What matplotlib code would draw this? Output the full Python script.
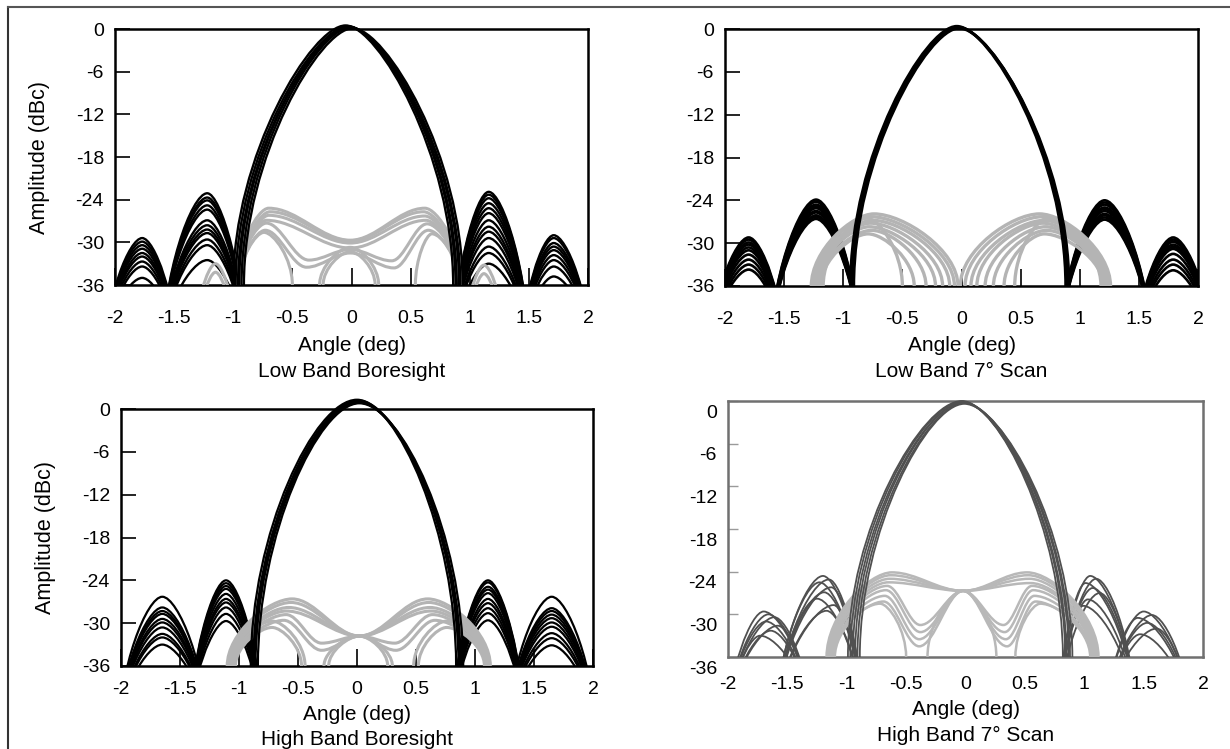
import matplotlib
matplotlib.use("Agg")
import matplotlib.pyplot as plt
import matplotlib.transforms as mtransforms
from matplotlib.path import Path
from matplotlib.patches import PathPatch
from matplotlib.lines import Line2D

plt.rcParams['font.family'] = ['Liberation Sans', 'DejaVu Sans']
plt.rcParams['axes.unicode_minus'] = False

W, H = 1230, 749
FLOOR = -36

x_ticks = [-2, -1.5, -1, -0.5, 0, 0.5, 1, 1.5, 2]
x_tick_labels = ['-2', '-1.5', '-1', '-0.5', '0', '0.5', '1', '1.5', '2']
y_ticks = [0, -6, -12, -18, -24, -30, -36]
y_tick_labels = ['0', '-6', '-12', '-18', '-24', '-30', '-36']
titles = ['Low Band Boresight', 'Low Band 7° Scan', 'High Band Boresight', 'High Band 7° Scan']

# ---------------- Low band boresight ----------------
lbb_beam_left = [-1.0, -0.98, -0.96, -0.95, -0.93, -0.91]
lbb_beam_right = [0.86, 0.88, 0.89, 0.91, 0.92, 0.94]
lbb_beam_x = [-0.05, -0.03, -0.02, -0.02, -0.01, 0.01]
lbb_beam_peak = [0.5, 0.4, 0.3, 0.3, 0.2, 0.1]
lbb_lobe_nulls = [(-2.08, -1.48), (-1.6, -0.9), (0.86, 1.5), (1.44, 2.02)]
lbb_lobe_x = [-1.77, -1.22, 1.16, 1.71]
lbb_lobe_levels = [
    [-29.4, -29.9, -30.4, -30.9, -31.5, -32.0, -32.7, -33.4, -35.0],
    [-23.1, -23.7, -24.1, -24.8, -25.4, -26.9, -27.6, -28.2, -28.7, -29.6, -30.4, -32.5],
    [-22.9, -23.3, -23.8, -24.5, -25.2, -25.9, -26.9, -27.8, -28.5, -29.4, -30.6, -31.5, -33.0],
    [-29.0, -29.4, -30.1, -30.6, -31.1, -31.8, -32.5, -33.4, -34.8],
]
lbb_gray_x = [
    [-0.97, -0.70, -0.01, 0.62, 0.93],
    [-0.96, -0.69, -0.01, 0.61, 0.92],
    [-0.95, -0.70, -0.01, 0.62, 0.92],
    [-0.95, -0.72, -0.01, 0.63, 0.91],
    [-0.96, -0.72, -0.36, -0.01, 0.34, 0.64, 0.92],
    [-0.95, -0.73, -0.38, -0.01, 0.36, 0.65, 0.91],
    [-0.95, -0.74, -0.50],
    [0.54, 0.68, 0.92],
    [-0.27, -0.01, 0.23],
    [-0.24, -0.01, 0.20],
    [-1.34, -1.15, -0.96],
    [-1.32, -1.15, -0.98],
    [0.94, 1.12, 1.31],
    [0.96, 1.12, 1.29],
]
lbb_gray_y = [
    [-36, -25.2, -29.7, -25.2, -36],
    [-36, -25.7, -29.8, -25.7, -36],
    [-36, -26.2, -30.1, -26.3, -36],
    [-36, -26.9, -30.8, -26.9, -36],
    [-36, -27.3, -32.5, -31.0, -32.6, -27.4, -36],
    [-36, -28.3, -33.5, -31.5, -33.6, -28.3, -36],
    [-36, -28.6, -36],
    [-36, -28.8, -36],
    [-36, -30.7, -36],
    [-36, -31.3, -36],
    [-46, -33.0, -46],
    [-46, -34.2, -46],
    [-46, -33.2, -46],
    [-46, -34.4, -46],
]

# ---------------- Low band 7 deg scan ----------------
lbs_beam_left = [-0.94, -0.93, -0.92, -0.91]
lbs_beam_right = [0.88, 0.89, 0.90, 0.91]
lbs_beam_x = [-0.04, -0.03, -0.02, -0.02]
lbs_beam_peak = [0.4, 0.3, 0.2, 0.1]
lbs_lobe_nulls = [(-2.12, -1.5), (-1.62, -0.86), (0.83, 1.61), (1.47, 2.12)]
lbs_lobe_x = [-1.8, -1.23, 1.21, 1.79]
lbs_lobe_levels = [
    [-29.2, -29.5, -29.9, -30.2, -30.6, -31.0, -31.6, -32.3, -33.0, -33.7],
    [-23.9, -24.2, -24.6, -24.9, -25.1, -25.5, -25.7, -26.1, -26.3, -26.6],
    [-24.0, -24.3, -24.6, -25.0, -25.2, -25.5, -25.9, -26.1, -26.4, -26.7],
    [-29.2, -29.5, -29.8, -30.2, -30.5, -30.8, -31.5, -32.3, -33.0, -33.8],
]
lbs_arch_left = [-1.27, -1.26, -1.25, -1.24, -1.22, -1.21, -1.19, -1.17]
lbs_arch_x = [-0.74, -0.76, -0.75, -0.77, -0.78, -0.76, -0.79, -0.80]
lbs_arch_peak = [-25.9, -26.3, -26.8, -27.2, -27.7, -28.2, -28.7, -26.5]
lbs_arch_right = [-0.03, -0.06, -0.10, -0.16, -0.22, -0.30, -0.40, -0.50]
lbs_arch2_left = [-0.01, 0.03, 0.08, 0.13, 0.20, 0.27, 0.36, 0.45]
lbs_arch2_x = [0.66, 0.68, 0.70, 0.69, 0.71, 0.72, 0.70, 0.73]
lbs_arch2_peak = [-25.9, -26.3, -26.8, -27.2, -27.7, -28.2, -28.7, -26.5]
lbs_arch2_right = [1.26, 1.25, 1.24, 1.23, 1.22, 1.21, 1.20, 1.18]

# ---------------- High band boresight ----------------
hbb_beam_left = [-0.90, -0.88, -0.87, -0.86, -0.84]
hbb_beam_right = [0.84, 0.86, 0.87, 0.88, 0.90]
hbb_beam_x = [0.0, 0.01, 0.01, 0.02, 0.02]
hbb_beam_peak = [1.3, 1.2, 1.0, 0.9, 0.8]
hbb_lobe_nulls = [(-2.02, -1.27), (-1.42, -0.8), (0.8, 1.42), (1.28, 2.02)]
hbb_lobe_x = [-1.65, -1.11, 1.11, 1.65]
hbb_lobe_levels = [
    [-26.3, -27.8, -28.3, -28.7, -29.4, -29.9, -30.6, -31.5, -32.0, -33.0],
    [-24.0, -24.4, -24.8, -25.2, -25.9, -26.6, -27.1, -27.8, -28.7, -29.7],
    [-24.0, -24.3, -24.9, -25.3, -25.8, -26.6, -27.2, -27.9, -28.6, -29.6],
    [-26.3, -27.9, -28.3, -28.8, -29.3, -29.9, -30.5, -31.4, -32.1, -33.1],
]
hbb_gray_x = [
    [-1.10, -0.55, 0.02, 0.60, 1.13],
    [-1.09, -0.56, 0.02, 0.61, 1.12],
    [-1.08, -0.58, 0.02, 0.62, 1.12],
    [-1.07, -0.60, 0.02, 0.63, 1.11],
    [-1.06, -0.60, -0.30, 0.02, 0.32, 0.64, 1.10],
    [-1.05, -0.62, -0.30, 0.02, 0.33, 0.66, 1.10],
    [-1.05, -0.72, -0.44],
    [-1.03, -0.72, -0.47],
    [0.48, 0.76, 1.10],
    [0.52, 0.76, 1.08],
    [-0.28, 0.02, 0.30],
    [-0.24, 0.02, 0.26],
]
hbb_gray_y = [
    [-36, -26.6, -31.8, -26.6, -36],
    [-36, -27.1, -31.8, -27.1, -36],
    [-36, -27.8, -31.8, -27.8, -36],
    [-36, -28.3, -31.8, -28.3, -36],
    [-36, -28.8, -32.8, -31.8, -32.8, -28.8, -36],
    [-36, -29.6, -33.8, -31.8, -33.8, -29.6, -36],
    [-36, -29.7, -36],
    [-36, -30.6, -36],
    [-36, -29.7, -36],
    [-36, -30.6, -36],
    [-36, -31.8, -36],
    [-36, -31.8, -36],
]

# ---------------- High band 7 deg scan ----------------
hbs_beam_left = [-0.99, -0.97, -0.95, -0.93, -0.91, -0.89]
hbs_beam_right = [0.82, 0.84, 0.85, 0.87, 0.88, 0.90]
hbs_beam_x = [-0.03, -0.03, -0.02, -0.02, -0.01, -0.01]
hbs_beam_peak = [0.0, -0.1, -0.2, -0.2, -0.3, -0.4]
hbs_lobe_nulls = [(-2.0, -1.3), (-1.6, -0.86), (0.78, 1.44), (1.18, 1.9)]
hbs_lobe_x = [
    [-1.70, -1.66, -1.61, -1.68, -1.58, -1.64, -1.73],
    [-1.20, -1.15, -1.23, -1.13, -1.19, -1.25, -1.11, -1.17],
    [1.05, 1.10, 1.01, 1.07, 1.13, 1.03, 0.99],
    [1.50, 1.57, 1.45, 1.53, 1.61, 1.47],
]
hbs_lobe_levels = [
    [-29.6, -30.0, -30.4, -31.0, -31.6, -32.3, -33.0],
    [-24.6, -25.1, -25.5, -26.2, -26.9, -27.8, -28.7, -29.5],
    [-24.6, -25.0, -25.6, -26.3, -27.0, -27.9, -28.8],
    [-29.6, -30.1, -30.5, -31.2, -32.0, -32.8],
]
hbs_gray_x = [
    [-1.17, -0.62, -0.02, 0.52, 1.12],
    [-1.16, -0.63, -0.02, 0.53, 1.11],
    [-1.15, -0.64, -0.02, 0.54, 1.10],
    [-1.14, -0.65, -0.02, 0.55, 1.09],
    [-1.13, -0.66, -0.38, -0.02, 0.32, 0.56, 1.08],
    [-1.12, -0.67, -0.38, -0.02, 0.33, 0.57, 1.07],
    [-1.11, -0.68, -0.39, -0.02, 0.34, 0.58, 1.06],
    [-1.10, -0.69, -0.39, -0.02, 0.35, 0.59, 1.05],
    [-1.12, -0.72, -0.50],
    [0.42, 0.63, 1.06],
    [-0.32, -0.02, 0.26],
]
hbs_gray_y = [
    [-36, -24.1, -26.7, -24.1, -36],
    [-36, -24.5, -26.7, -24.5, -36],
    [-36, -25.0, -26.7, -25.0, -36],
    [-36, -25.5, -26.7, -25.6, -36],
    [-36, -26.0, -31.5, -26.7, -31.5, -26.0, -36],
    [-36, -26.6, -32.5, -26.7, -32.5, -26.6, -36],
    [-36, -27.4, -33.5, -26.7, -33.5, -27.4, -36],
    [-36, -28.2, -34.5, -26.7, -34.5, -28.2, -36],
    [-36, -28.5, -36],
    [-36, -28.5, -36],
    [-36, -26.7, -36],
]

NULL_DEPTH = -46


def curve(ax, xs, ys, color, lw, a=0.35, b=0.5, clip=True):
    # smooth path through knots: flat tangent at extrema, vertical at nulls
    verts = [(xs[0], ys[0])]
    codes = [Path.MOVETO]
    for x0, y0, x1, y1 in zip(xs[:-1], ys[:-1], xs[1:], ys[1:]):
        dx, dy = x1 - x0, y1 - y0
        c1 = (x0, y0 + b * dy) if y0 <= FLOOR else (x0 + a * dx, y0)
        c2 = (x1, y1 - b * dy) if y1 <= FLOOR else (x1 - a * dx, y1)
        verts += [c1, c2, (x1, y1)]
        codes += [Path.CURVE4] * 3
    patch = PathPatch(Path(verts, codes), fill=False, edgecolor=color, lw=lw,
                      zorder=3, capstyle='butt', joinstyle='round')
    patch.set_clip_on(clip)
    ax.add_patch(patch)


def draw_panel(ax, beam, nulls, lobe_x, levels, gray, dark, light, lw_dark, lw_light, beam_a):
    for (nl, nr), px, lv in zip(nulls, lobe_x, levels):
        pxs = px if isinstance(px, list) else [px] * len(lv)
        for x, pk in zip(pxs, lv):
            curve(ax, [nl, x, nr], [NULL_DEPTH, pk, NULL_DEPTH], dark, lw_dark)
    for xs, ys in gray:
        curve(ax, xs, ys, light, lw_light)
    for xl, xr, px, pk in zip(*beam):
        curve(ax, [xl, px, xr], [FLOOR, pk, FLOOR], dark, lw_dark, a=beam_a, clip=False)


def setup(ax, title, pad, labelpad, frame='black', ylabel=False):
    ax.set_xlim(-2, 2)
    ax.set_ylim(-36, 0)
    ax.set_xticks(x_ticks)
    ax.set_xticklabels(x_tick_labels)
    ax.set_yticks(y_ticks)
    ax.set_yticklabels(y_tick_labels)
    ax.tick_params(axis='both', direction='in', labelsize=14, color=frame)
    ax.tick_params(axis='x', length=12, width=1.2, pad=pad)
    ax.tick_params(axis='y', length=11, width=1.2, pad=8)
    for s in ax.spines.values():
        s.set_linewidth(1.8)
        s.set_color(frame)
    ax.set_xlabel('Angle (deg)\n' + title, fontsize=15, linespacing=1.45, labelpad=labelpad)
    if ylabel:
        ax.set_ylabel('Amplitude (dBc)', fontsize=15.5)
        ax.yaxis.set_label_coords(-0.137, 0.5)


def box(l, t, r, b):
    return [l / W, 1 - b / H, (r - l) / W, (b - t) / H]


fig = plt.figure(figsize=(W / 100, H / 100), dpi=100)
ax1 = fig.add_axes(box(115, 29, 588, 285))
ax2 = fig.add_axes(box(725, 29, 1198, 286))
ax3 = fig.add_axes(box(121, 409, 593, 666))
ax4 = fig.add_axes(box(728, 401, 1203, 657))

lbb_gray = list(zip(lbb_gray_x, lbb_gray_y))
lbs_gray = [([l, x, r], [FLOOR, p, FLOOR]) for l, x, p, r in
            zip(lbs_arch_left, lbs_arch_x, lbs_arch_peak, lbs_arch_right)]
lbs_gray += [([l, x, r], [FLOOR, p, FLOOR]) for l, x, p, r in
             zip(lbs_arch2_left, lbs_arch2_x, lbs_arch2_peak, lbs_arch2_right)]
hbb_gray = list(zip(hbb_gray_x, hbb_gray_y))
hbs_gray = list(zip(hbs_gray_x, hbs_gray_y))

draw_panel(ax1, (lbb_beam_left, lbb_beam_right, lbb_beam_x, lbb_beam_peak),
           lbb_lobe_nulls, lbb_lobe_x, lbb_lobe_levels, lbb_gray,
           'black', '#b4b4b4', 1.7, 2.2, 0.3)
draw_panel(ax2, (lbs_beam_left, lbs_beam_right, lbs_beam_x, lbs_beam_peak),
           lbs_lobe_nulls, lbs_lobe_x, lbs_lobe_levels, lbs_gray,
           'black', '#b4b4b4', 1.9, 2.4, 0.3)
draw_panel(ax3, (hbb_beam_left, hbb_beam_right, hbb_beam_x, hbb_beam_peak),
           hbb_lobe_nulls, hbb_lobe_x, hbb_lobe_levels, hbb_gray,
           'black', '#b4b4b4', 1.6, 2.2, 0.4)
draw_panel(ax4, (hbs_beam_left, hbs_beam_right, hbs_beam_x, hbs_beam_peak),
           hbs_lobe_nulls, hbs_lobe_x, hbs_lobe_levels, hbs_gray,
           '#505050', '#b8b8b8', 1.3, 1.8, 0.35)

setup(ax1, titles[0], 18.0, 6.5, ylabel=True)
setup(ax2, titles[1], 18.0, 6.0)
setup(ax3, titles[2], 11.0, 4.5, ylabel=True)
setup(ax4, titles[3], 13.5, 5.5, frame='#707070')

# scanned panel: tick labels sit a little below their ticks, only the centre x tick shows
ax4.tick_params(axis='y', length=7, width=1.0, color='#9a9a9a')
ax4.tick_params(axis='x', length=0)
ax4.set_xticks([0], minor=True)
ax4.tick_params(axis='x', which='minor', direction='in', length=12, width=1.0, color='#9a9a9a')
shift = mtransforms.ScaledTranslation(0, -0.1, fig.dpi_scale_trans)
for lab in ax4.get_yticklabels():
    lab.set_transform(lab.get_transform() + shift)

# page border (cropped scan)
fig.add_artist(Line2D([8 / W, 8 / W], [0, 1 - 7 / H], transform=fig.transFigure, color='#333333', lw=1.5))
fig.add_artist(Line2D([8 / W, 1], [1 - 7 / H, 1 - 7 / H], transform=fig.transFigure, color='#555555', lw=1.5))

fig.savefig('out.png', dpi=100)
